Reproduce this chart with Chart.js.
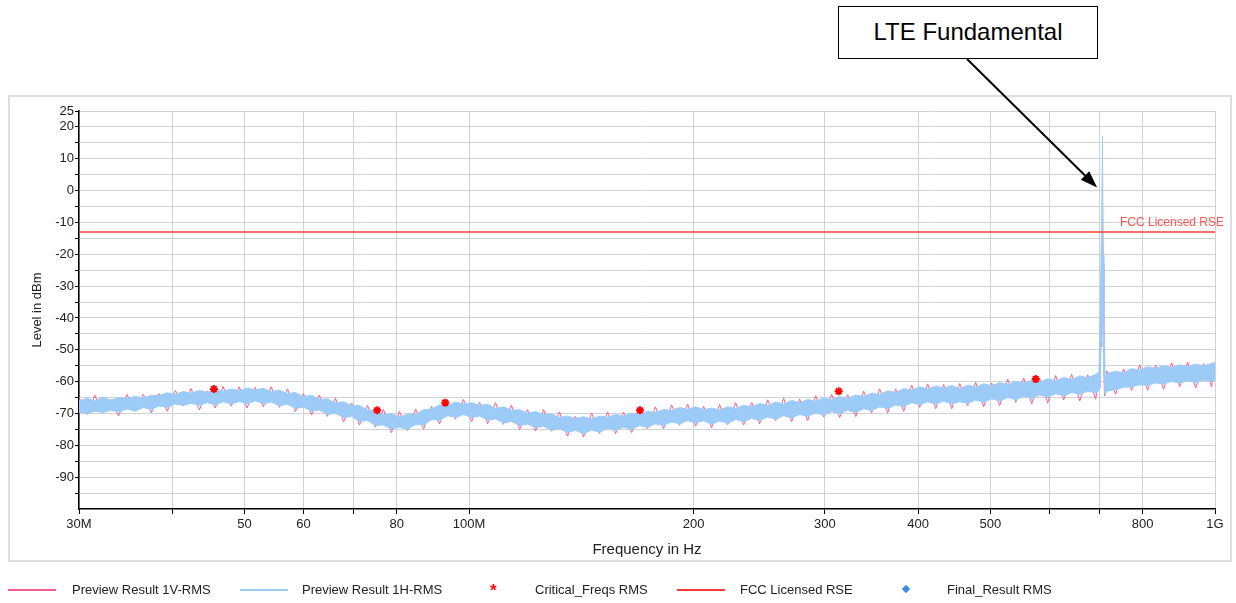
<!DOCTYPE html>
<html>
<head>
<meta charset="utf-8">
<script src="https://cdn.jsdelivr.net/npm/chart.js@4.4.1/dist/chart.umd.min.js"></script>
<style>
  body { margin: 0; background: #fff; font-family: Arial, "Liberation Sans", sans-serif; }
  #wrap { position: relative; width: 1236px; height: 603px; overflow: hidden; }
  #frame { position: absolute; left: 8px; top: 95px; width: 1224px; height: 467px; border: 2px solid #dddddd; box-sizing: border-box; }
  #chart { position: absolute; left: 0; top: 0; }
  #callout { position: absolute; left: 838px; top: 6px; width: 260px; height: 53px; border: 1.5px solid #000; box-sizing: border-box;
             font-size: 24px; line-height: 50px; text-align: center; color: #000; background: #fff; }
  .lg { position: absolute; top: 581px; font-size: 13px; color: #222; line-height: 18px; white-space: nowrap; }
  .lg-line { position: absolute; top: 589px; width: 48px; height: 1.5px; }
  .lg-star { position: absolute; top: 582px; color: #ff0000; font-size: 17px; font-weight: bold; line-height: 18px; }
  .lg-diamond { position: absolute; top: 586px; width: 6px; height: 6px; transform: rotate(45deg); }
</style>
</head>
<body>
<div id="wrap">
  <div id="frame"></div>
  <canvas id="chart" width="1236" height="603"></canvas>
  <div id="callout">LTE Fundamental</div>
  <div id="legend"></div>
</div>
<script>
// ---------- DATA (frequency in MHz, level in dBm) ----------
const freqMHz = [
  30.0, 30.8, 31.5, 32.3, 33.1, 33.9, 34.8, 35.7, 36.6, 37.5,
  38.4, 39.4, 40.4, 41.4, 42.4, 43.5, 44.6, 45.7, 46.8, 48.0,
  49.2, 50.4, 51.7, 53.0, 54.3, 55.7, 57.1, 58.5, 60.0, 61.5,
  63.0, 64.6, 66.2, 67.9, 69.6, 71.3, 73.1, 74.9, 76.8, 78.7,
  80.7, 82.7, 84.8, 86.9, 89.1, 91.3, 93.6, 95.9, 98.3, 100.8,
  103.3, 105.9, 108.5, 111.2, 114.0, 116.9, 119.8, 122.8, 125.9, 129.0,
  132.2, 135.5, 138.9, 142.4, 146.0, 149.6, 153.4, 157.2, 161.1, 165.2,
  169.3, 173.5, 177.8, 182.3, 186.9, 191.5, 196.3, 201.2, 206.3, 211.4,
  216.7, 222.2, 227.7, 233.4, 239.3, 245.2, 251.4, 257.7, 264.1, 270.7,
  277.5, 284.4, 291.5, 298.8, 306.3, 314.0, 321.8, 329.9, 338.1, 346.6,
  355.2, 364.1, 373.2, 382.6, 392.1, 401.9, 412.0, 422.3, 432.8, 443.7,
  454.8, 466.1, 477.8, 489.7, 502.0, 514.5, 527.4, 540.6, 554.1, 568.0,
  582.2, 596.7, 611.6, 626.9, 642.6, 658.7, 675.1, 692.0,
  699.0, 701.0, 703.0, 705.0, 706.5, 708.0, 709.5, 711.0, 713.0, 716.0,
  735.9, 754.3, 773.2, 792.5, 812.3, 832.6, 853.4, 874.8, 896.7, 919.1,
  942.1, 965.6, 989.7, 1000.0
];

// Preview Result 1H-RMS, read as the top and bottom of the dense trace
const hRmsTop = [
  -66.0, -65.2, -66.1, -64.9, -65.8, -65.0, -65.3, -64.6, -65.1, -64.3,
  -64.4, -63.5, -64.0, -63.1, -63.6, -62.8, -63.3, -62.5, -63.0, -62.3,
  -62.8, -62.0, -62.6, -62.1, -63.1, -62.7, -63.8, -63.4, -64.7, -64.3,
  -65.6, -65.4, -66.7, -66.3, -67.6, -67.5, -68.9, -69.1, -70.4, -70.1,
  -71.1, -70.2, -70.3, -68.8, -68.6, -67.3, -67.5, -66.4, -67.0, -66.6,
  -67.5, -67.1, -68.4, -67.9, -69.0, -68.8, -69.9, -69.4, -70.4, -70.1,
  -71.3, -70.8, -71.6, -71.0, -71.7, -70.8, -71.2, -70.3, -70.8, -69.9,
  -70.3, -69.3, -69.7, -68.7, -69.1, -68.1, -68.7, -67.9, -68.8, -68.3,
  -68.9, -67.9, -68.4, -67.4, -67.9, -66.9, -67.5, -66.4, -67.0, -65.9,
  -66.6, -65.6, -66.1, -65.1, -65.7, -64.7, -65.2, -64.2, -64.7, -63.6,
  -64.0, -62.9, -63.4, -62.2, -62.7, -61.6, -62.3, -61.4, -62.0, -61.2,
  -62.2, -61.1, -61.7, -60.7, -61.3, -60.3, -60.9, -59.9, -60.5, -59.5,
  -60.1, -59.1, -59.7, -58.7, -59.3, -58.2, -58.8, -57.7,
  -57.0, -42.0, -25.0, -8.0, 17.0, -20.0, -40.0, -50.0, -62.0, -57.4,
  -56.8, -57.2, -55.9, -56.4, -55.3, -55.8, -55.0, -55.6, -54.7, -55.3,
  -54.5, -55.0, -54.3, -54.0
];
const hRmsBottom = [
  -69.6, -70.0, -69.3, -69.7, -69.0, -69.5, -68.6, -69.3, -68.1, -68.8,
  -67.6, -68.1, -67.0, -67.5, -66.8, -67.4, -66.6, -67.3, -66.3, -67.1,
  -66.2, -67.0, -66.0, -67.0, -66.4, -67.6, -67.1, -68.4, -68.0, -69.3,
  -68.9, -70.3, -69.9, -71.3, -70.9, -72.5, -72.2, -73.8, -73.6, -74.9,
  -74.3, -75.0, -73.5, -73.6, -71.9, -72.1, -70.7, -71.3, -70.3, -71.3,
  -70.8, -72.1, -71.7, -73.0, -72.5, -73.8, -73.3, -74.5, -74.0, -75.3,
  -74.8, -76.0, -75.3, -76.4, -75.2, -75.9, -74.7, -75.4, -74.3, -75.0,
  -73.8, -74.4, -73.2, -73.8, -72.6, -73.3, -72.2, -73.0, -72.3, -73.4,
  -72.4, -73.1, -71.9, -72.6, -71.5, -72.2, -71.1, -71.8, -70.7, -71.4,
  -70.3, -71.0, -69.8, -70.5, -69.4, -70.1, -69.0, -69.7, -68.5, -69.1,
  -67.9, -68.5, -67.3, -67.8, -66.6, -67.3, -66.3, -67.1, -66.1, -67.0,
  -66.3, -66.9, -65.8, -66.5, -65.4, -66.1, -65.0, -65.7, -64.6, -65.3,
  -64.2, -64.9, -63.8, -64.5, -63.4, -64.0, -63.0, -63.5,
  -62.8, -61.0, -50.0, -45.0, -40.0, -45.0, -58.0, -63.5, -64.0, -63.0,
  -62.5, -61.8, -61.7, -61.0, -61.2, -60.4, -60.7, -59.9, -60.5, -59.7,
  -60.3, -59.5, -60.0, -59.4
];
// Preview Result 1V-RMS
const vRms = [
  -65.0, -70.3, -64.3, -69.9, -65.6, -70.8, -64.1, -69.2, -64.0, -69.8,
  -63.8, -69.3, -62.8, -67.6, -62.2, -68.9, -62.9, -68.3, -61.5, -67.7,
  -61.6, -68.3, -61.8, -67.9, -61.6, -68.1, -62.3, -69.4, -63.8, -70.5,
  -64.2, -70.9, -65.2, -72.6, -66.7, -73.6, -67.5, -74.3, -68.8, -76.0,
  -69.4, -75.4, -68.6, -74.9, -67.8, -73.3, -65.8, -71.8, -65.6, -72.5,
  -66.5, -73.2, -66.6, -73.4, -67.4, -75.0, -68.8, -75.5, -68.8, -75.6,
  -69.5, -77.1, -70.8, -77.4, -69.9, -76.3, -69.5, -76.4, -69.6, -76.0,
  -68.5, -74.8, -67.9, -74.8, -67.3, -73.7, -67.0, -74.0, -67.7, -74.5,
  -67.2, -73.5, -66.6, -73.6, -66.6, -73.2, -65.7, -72.3, -65.2, -72.5,
  -65.5, -72.2, -64.4, -71.1, -64.0, -71.3, -64.1, -71.0, -63.0, -69.8,
  -62.3, -69.8, -62.3, -69.3, -61.1, -68.1, -60.7, -68.5, -60.9, -68.5,
  -60.6, -67.6, -60.2, -67.9, -60.4, -67.5, -59.3, -66.5, -58.9, -66.9,
  -59.1, -66.7, -58.1, -65.7, -57.7, -66.1, -57.9, -65.5,
  -58.0, -62.0, -40.0, -49.0, -5.0, -22.8, -52.0, -64.5, -61.0, -56.6,
  -64.0, -56.0, -62.7, -54.7, -62.7, -54.9, -62.4, -54.1, -61.6, -53.9,
  -62.0, -54.4, -61.6, -54.4
];

const critFreqMHz = [45.5, 75.3, 92.9, 169.5, 313.0, 575.0];
const critLevel = [-62.3, -69.0, -66.6, -69.0, -63.0, -59.2];

const fccFreqMHz = [30, 1000];
const fccLimit = [-13, -13];

const finalFreqMHz = [];
const finalLevel = [];

const xTickVals = [30, 40, 50, 60, 70, 80, 100, 200, 300, 400, 500, 600, 700, 800, 1000];
const xTickText = ["30M", "", "50", "60", "", "80", "100M", "200", "300", "400", "500", "", "", "800", "1G"];
const yTickVals = [25, 20, 15, 10, 5, 0, -5, -10, -15, -20, -25, -30, -35, -40, -45, -50, -55, -60, -65, -70, -75, -80, -85, -90, -95];
const yTickText = [25, 20, 10, 0, -10, -20, -30, -40, -50, -60, -70, -80, -90];

const arrowTip = { x: 695, y: 1 };

// ---------- CHART ----------
const FONT = 'Arial, "Liberation Sans", sans-serif';
const PINK = "#ee5f8f";
const BLUE = "#9dcbf8";
const RED = "#ff3b3b";
const DIAMOND = "#3a8ee0";

const pts = (xs, ys) => xs.map((x, i) => ({ x: x, y: ys[i] }));

const fccLabel = {
  id: "fccLabel",
  afterDatasetsDraw(chart) {
    const { ctx, chartArea, scales } = chart;
    ctx.save();
    ctx.font = "12px " + FONT;
    ctx.fillStyle = "#ff5555";
    ctx.textAlign = "right";
    ctx.textBaseline = "middle";
    ctx.fillText("FCC Licensed RSE", chartArea.right + 9, scales.y.getPixelForValue(fccLimit[0]) - 9);
    ctx.restore();
  }
};

const calloutArrow = {
  id: "calloutArrow",
  afterDraw(chart) {
    const { ctx, scales } = chart;
    const x0 = 967, y0 = 59;
    const x1 = scales.x.getPixelForValue(arrowTip.x);
    const y1 = scales.y.getPixelForValue(arrowTip.y);
    const a = Math.atan2(y1 - y0, x1 - x0);
    const len = 17, half = 6;
    const bx = x1 - len * Math.cos(a), by = y1 - len * Math.sin(a);
    ctx.save();
    ctx.strokeStyle = "#000";
    ctx.fillStyle = "#000";
    ctx.lineWidth = 2;
    ctx.beginPath();
    ctx.moveTo(x0, y0);
    ctx.lineTo(bx, by);
    ctx.stroke();
    ctx.beginPath();
    ctx.moveTo(x1, y1);
    ctx.lineTo(bx + half * Math.sin(a), by - half * Math.cos(a));
    ctx.lineTo(bx - half * Math.sin(a), by + half * Math.cos(a));
    ctx.closePath();
    ctx.fill();
    ctx.restore();
  }
};

const chart = new Chart(document.getElementById("chart"), {
  type: "line",
  data: {
    datasets: [
      {
        label: "Preview Result 1V-RMS",
        data: pts(freqMHz, vRms),
        borderColor: PINK,
        borderWidth: 1,
        order: 3
      },
      {
        label: "Preview Result 1H-RMS",
        data: pts(freqMHz, hRmsTop),
        borderColor: BLUE,
        backgroundColor: BLUE,
        borderWidth: 1,
        fill: "+1",
        order: 2
      },
      {
        label: "",
        data: pts(freqMHz, hRmsBottom),
        borderColor: BLUE,
        borderWidth: 1,
        order: 2
      },
      {
        label: "Critical_Freqs RMS",
        data: pts(critFreqMHz, critLevel),
        showLine: false,
        pointStyle: "star",
        pointRadius: 4,
        borderColor: "#ff0000",
        borderWidth: 2,
        order: 0
      },
      {
        label: "FCC Licensed RSE",
        data: pts(fccFreqMHz, fccLimit),
        borderColor: RED,
        borderWidth: 1.5,
        order: 1
      },
      {
        label: "Final_Result RMS",
        data: pts(finalFreqMHz, finalLevel),
        showLine: false,
        pointStyle: "rectRot",
        pointRadius: 4,
        backgroundColor: DIAMOND,
        borderColor: DIAMOND,
        order: 0
      }
    ]
  },
  options: {
    responsive: false,
    animation: false,
    layout: { padding: { left: 30, top: 111, right: 21, bottom: 44 } },
    elements: { point: { radius: 0 }, line: { tension: 0 } },
    plugins: { legend: { display: false }, tooltip: { enabled: false } },
    scales: {
      x: {
        type: "logarithmic",
        min: 30,
        max: 1000,
        afterBuildTicks: s => { s.ticks = xTickVals.map(v => ({ value: v })); },
        afterFit: s => { s.height = 50; },
        grid: { color: "#d2d2d2", tickColor: "#000", tickLength: 5 },
        border: { color: "#000", width: 1.5 },
        ticks: {
          autoSkip: false,
          maxRotation: 0,
          padding: 3,
          color: "#222",
          font: { family: FONT, size: 13 },
          callback: v => xTickText[xTickVals.indexOf(v)]
        },
        title: { display: true, text: "Frequency in Hz", color: "#222", font: { family: FONT, size: 15 }, padding: 0 }
      },
      y: {
        min: -100,
        max: 25,
        afterBuildTicks: s => { s.ticks = yTickVals.map(v => ({ value: v })); },
        afterFit: s => { s.width = 49; },
        grid: { color: "#d2d2d2", tickColor: "#000", tickLength: 4 },
        border: { color: "#000", width: 1.5 },
        ticks: {
          autoSkip: false,
          padding: 1,
          color: "#222",
          font: { family: FONT, size: 13 },
          callback: v => (yTickText.includes(v) ? String(v) : "")
        },
        title: { display: true, text: "Level in dBm", color: "#222", font: { family: FONT, size: 13 }, padding: 0 }
      }
    }
  },
  plugins: [fccLabel, calloutArrow]
});

// ---------- LEGEND ----------
const legendLayout = [
  { ds: 0, kind: "line", color: PINK, sx: 8, tx: 72 },
  { ds: 1, kind: "line", color: BLUE, sx: 240, tx: 302 },
  { ds: 3, kind: "star", color: "#ff0000", sx: 490, tx: 535 },
  { ds: 4, kind: "line", color: RED, sx: 677, tx: 740 },
  { ds: 5, kind: "diamond", color: DIAMOND, sx: 903, tx: 947 }
];
const legend = document.getElementById("legend");
legendLayout.forEach(item => {
  const s = document.createElement("div");
  if (item.kind === "line") {
    s.className = "lg-line";
    s.style.background = item.color;
  } else if (item.kind === "star") {
    s.className = "lg-star";
    s.textContent = "*";
  } else {
    s.className = "lg-diamond";
    s.style.background = item.color;
  }
  s.style.left = item.sx + "px";
  legend.appendChild(s);
  const t = document.createElement("div");
  t.className = "lg";
  t.style.left = item.tx + "px";
  t.textContent = chart.data.datasets[item.ds].label;
  legend.appendChild(t);
});
</script>
</body>
</html>
